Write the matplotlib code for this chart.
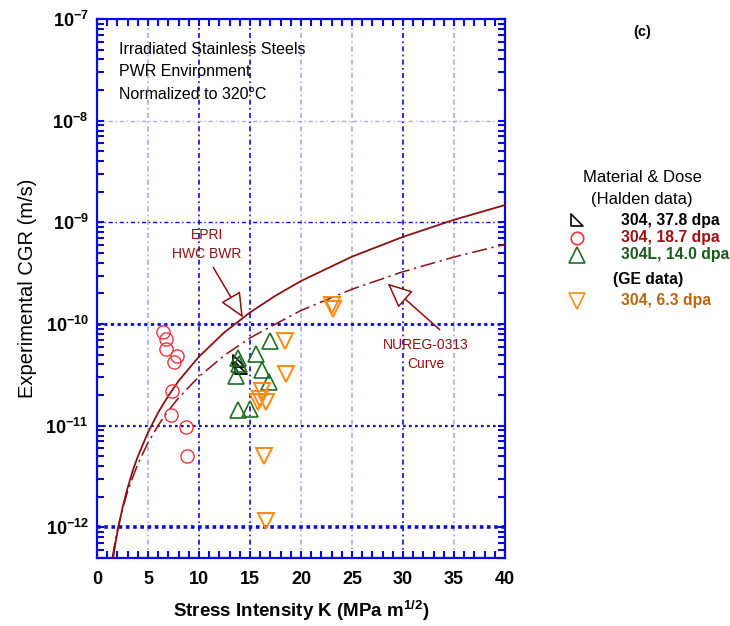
import numpy as np
import matplotlib
matplotlib.use("Agg")
import matplotlib.pyplot as plt
from matplotlib.ticker import MultipleLocator, LogLocator, FixedLocator, FixedFormatter, NullFormatter
from matplotlib.path import Path
from matplotlib.lines import Line2D

plt.rcParams['font.family'] = ['Liberation Sans', 'DejaVu Sans']
plt.rcParams['mathtext.fontset'] = 'custom'
plt.rcParams['mathtext.rm'] = 'Liberation Sans'
plt.rcParams['mathtext.bf'] = 'Liberation Sans:bold'
plt.rcParams['mathtext.it'] = 'Liberation Sans:italic'

# ---- data ----
# Halden 304, 37.8 dpa
k_304_378 = [13.9, 14.1]
cgr_304_378 = [4.3e-11, 3.7e-11]
# Halden 304, 18.7 dpa
k_304_187 = [6.5, 6.8, 6.8, 7.8, 7.55, 7.4, 7.25, 8.7, 8.8]
cgr_304_187 = [8.3e-11, 7.1e-11, 5.7e-11, 4.8e-11, 4.2e-11, 2.2e-11, 1.27e-11, 9.8e-12, 5.0e-12]
# Halden 304L, 14.0 dpa
k_304l_140 = [17.0, 15.6, 13.8, 13.9, 13.6, 16.2, 16.9, 13.85, 15.0]
cgr_304l_140 = [6.8e-11, 5.1e-11, 4.6e-11, 4.0e-11, 3.1e-11, 3.55e-11, 2.7e-11, 1.44e-11, 1.47e-11]
# GE 304, 6.3 dpa
k_304_63 = [18.4, 18.5, 16.2, 16.0, 15.75, 16.6, 16.4, 16.6, 23.0, 23.1]
cgr_304_63 = [6.8e-11, 3.2e-11, 2.2e-11, 1.85e-11, 1.7e-11, 1.7e-11, 5.0e-12, 1.15e-12, 1.55e-10, 1.4e-10]

# disposition curves
k_curve = [1.5, 1.75, 2, 2.5, 3, 3.5, 4, 5, 6, 7, 8, 10, 12.5, 15, 17.5, 20, 25, 30, 35, 40]
cgr_epri = [4.4e-13, 6.5e-13, 9.0e-13, 1.56e-12, 2.44e-12, 3.6e-12, 4.97e-12, 8.6e-12, 1.35e-11,
            1.97e-11, 2.76e-11, 4.78e-11, 8.3e-11, 1.30e-10, 1.9e-10, 2.65e-10, 4.6e-10,
            7.2e-10, 1.06e-9, 1.48e-9]
cgr_nureg = [5.0e-13, 7.0e-13, 9.4e-13, 1.52e-12, 2.26e-12, 3.1e-12, 4.2e-12, 6.8e-12, 1.01e-11,
             1.41e-11, 1.88e-11, 3.04e-11, 4.93e-11, 7.3e-11, 1.0e-10, 1.36e-10, 2.2e-10,
             3.27e-10, 4.56e-10, 6.08e-10]

xticks = [0, 5, 10, 15, 20, 25, 30, 35, 40]
ydecades = [1e-12, 1e-11, 1e-10, 1e-9, 1e-8, 1e-7]
ytick_labels = [r'$\mathbf{10^{-12}}$', r'$\mathbf{10^{-11}}$', r'$\mathbf{10^{-10}}$',
                r'$\mathbf{10^{-9}}$', r'$\mathbf{10^{-8}}$', r'$\mathbf{10^{-7}}$']

dark_red = '#8b1010'
blue = '#0a0ae0'
light_blue = '#a8a8f0'
c_red = '#e8343c'
c_green = '#1e6e22'
c_orange = '#ff8a12'

W, H = 730, 626
fig = plt.figure(figsize=(W / 100, H / 100), dpi=100)
ax = fig.add_axes([97 / W, 1 - 558 / H, (505 - 97) / W, (558 - 19) / H])
ax.set_yscale('log')
ax.set_xlim(0, 40)
ax.set_ylim(5e-13, 1e-7)

# grid
for xv, col in zip([5, 10, 15, 20, 25, 30, 35],
                   [light_blue, blue, blue, light_blue, light_blue, blue, light_blue]):
    ax.axvline(xv, color=col, lw=1.2, ls=(0, (3, 2, 1, 2)), zorder=1)
for yv, col, lw, ls in [(1e-8, light_blue, 1.0, (0, (3, 2, 1, 2))),
                        (1e-9, blue, 1.0, (0, (3, 2, 1, 2))),
                        (1e-10, blue, 2.0, (0, (1.2, 1.2))),
                        (1e-11, blue, 1.6, (0, (1.2, 1.5))),
                        (1e-12, blue, 2.6, (0, (1.0, 1.0)))]:
    ax.axhline(yv, color=col, lw=lw, ls=ls, zorder=1)

# curves
ax.plot(k_curve, cgr_epri, color=dark_red, lw=1.3, zorder=3)
ax.plot(k_curve, cgr_nureg, color=dark_red, lw=1.1, dashes=(10, 3, 1.5, 3), zorder=3)

# right-triangle marker
rt = Path([(-1, 1), (-1, -1), (1, -1), (-1, 1)], [Path.MOVETO, Path.LINETO, Path.LINETO, Path.CLOSEPOLY])

ax.plot(k_304_187, cgr_304_187, 'o', ms=9.5, mfc='none', mec=c_red, mew=1.0, ls='none', zorder=4)
ax.plot(k_304_378, cgr_304_378, marker=rt, ms=9, mfc='none', mec='black', mew=1.3, ls='none', zorder=4)
ax.plot(k_304l_140, cgr_304l_140, '^', ms=11, mfc='none', mec=c_green, mew=1.2, ls='none', zorder=5)
ax.plot(k_304_63, cgr_304_63, 'v', ms=11, mfc='none', mec=c_orange, mew=1.4, ls='none', zorder=5)

# axes styling
for sp in ax.spines.values():
    sp.set_color(blue)
    sp.set_linewidth(1.6)
ax.xaxis.set_major_locator(FixedLocator(xticks))
ax.xaxis.set_minor_locator(MultipleLocator(1))
ax.yaxis.set_major_locator(FixedLocator(ydecades))
ax.yaxis.set_major_formatter(FixedFormatter(ytick_labels))
ax.yaxis.set_minor_locator(LogLocator(base=10, subs=np.arange(2, 10), numticks=20))
ax.yaxis.set_minor_formatter(NullFormatter())
ax.tick_params(which='both', direction='in', top=True, right=True, color=blue, width=1.5)
ax.tick_params(which='major', length=5)
ax.tick_params(which='minor', length=5)
ax.tick_params(axis='x', labelsize=13, pad=9)
ax.tick_params(axis='y', labelsize=13, pad=6)
for lab in ax.get_xticklabels():
    lab.set_fontweight('bold')

ax.set_xlabel(r'Stress Intensity K (MPa m$^{\mathbf{1/2}}$)', fontsize=13.5, fontweight='bold', labelpad=8)
ax.set_ylabel('Experimental CGR (m/s)', fontsize=14.5, labelpad=6)

# annotations
ax.text(2.2, 5.9e-8, 'Irradiated Stainless Steels\nPWR Environment\nNormalized to 320\u00b0C',
        fontsize=11.5, va='top', ha='left', linespacing=1.6, zorder=6)

arrow_style = dict(arrowstyle='-|>,head_length=0.55,head_width=0.25', fc='white', ec=dark_red,
                   lw=1.1, mutation_scale=28, shrinkA=0, shrinkB=0)
ax.text(10.8, 6.1e-10, 'EPRI\nHWC BWR', color=dark_red, fontsize=10, ha='center', va='center',
        linespacing=1.45)
ax.annotate('', xy=(14.3, 1.16e-10), xytext=(11.4, 3.6e-10), arrowprops=arrow_style, zorder=6)
ax.text(32.2, 5.0e-11, 'NUREG-0313\nCurve', color=dark_red, fontsize=10, ha='center', va='center',
        linespacing=1.45)
ax.annotate('', xy=(28.5, 2.5e-10), xytext=(33.6, 8.8e-11), arrowprops=arrow_style, zorder=6)

# panel tag and legend block (figure pixels)
def fx(px):
    return px / W

def fy(py):
    return 1 - py / H

fig.text(fx(642), fy(32), '(c)', fontsize=10.5, fontweight='bold', ha='center', va='center')
fig.text(fx(642), fy(177), 'Material & Dose', fontsize=12, ha='center', va='center')
fig.text(fx(642), fy(200), '(Halden data)', fontsize=12, ha='center', va='center')

entries = [
    (220, rt, 9, 'black', '304, 37.8 dpa', 'black'),
    (238, 'o', 9, c_red, '304, 18.7 dpa', '#a01010'),
    (255, '^', 11, c_green, '304L, 14.0 dpa', '#1a5a1a'),
    (301, 'v', 11, c_orange, '304, 6.3 dpa', '#c0640a'),
]
for py, mk, ms, mc, label, tc in entries:
    fig.add_artist(Line2D([fx(577)], [fy(py)], marker=mk, ms=ms, mfc='none', mec=mc,
                          mew=1.2, ls='none', transform=fig.transFigure))
    fig.text(fx(621), fy(py), label, fontsize=11.3, fontweight='bold', color=tc, ha='left', va='center')
fig.text(fx(648), fy(279), '(GE data)', fontsize=11.3, fontweight='bold', ha='center', va='center')

fig.savefig('out.png', dpi=100)
